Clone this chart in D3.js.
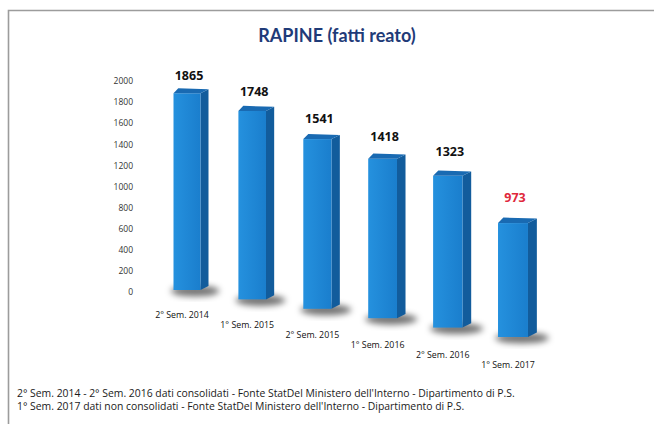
<!DOCTYPE html>
<html>
<head>
<meta charset="utf-8">
<script src="https://cdn.jsdelivr.net/npm/d3@7"></script>
<style>
  body{margin:0;background:#fff;}
  svg{display:block;}
</style>
</head>
<body>
<div id="chart"></div>
<script>
const width=654;
const height=424;

const categories=["2° Sem. 2014","1° Sem. 2015","2° Sem. 2015","1° Sem. 2016","2° Sem. 2016","1° Sem. 2017"];
const values=[1865,1748,1541,1418,1323,973];
const consolidated=[true,true,true,true,true,false];
const tickValues=[0,200,400,600,800,1000,1200,1400,1600,1800,2000];
const title="RAPINE (fatti reato)";
const footnotes=[
  "2° Sem. 2014 - 2° Sem. 2016 dati consolidati - Fonte StatDel Ministero dell'Interno - Dipartimento di P.S.",
  "1° Sem. 2017 dati non consolidati - Fonte StatDel Ministero dell'Interno - Dipartimento di P.S."
];

const svg=d3.select("#chart").append("svg")
  .attr("width",width).attr("height",height);

const defs=svg.append("defs");
defs.append("filter").attr("id","blur")
  .attr("x","-50%").attr("y","-50%").attr("width","200%").attr("height","200%")
  .append("feGaussianBlur").attr("stdDeviation",3);
const grad=defs.append("linearGradient").attr("id","front").attr("x1",0).attr("x2",1).attr("y1",0).attr("y2",0);
grad.append("stop").attr("offset","0%").attr("stop-color","#2591de");
grad.append("stop").attr("offset","100%").attr("stop-color","#1a7ecd");

// frame
svg.append("path")
  .attr("d",`M8.5,${height} L8.5,10.5 L${width},10.5`)
  .attr("fill","none").attr("stroke","#9c9c9c").attr("stroke-width",1.6);

svg.append("text")
  .attr("x",337).attr("y",42)
  .attr("text-anchor","middle")
  .attr("font-family","Lato, sans-serif").attr("font-weight","bold")
  .attr("font-size",18).attr("fill","#1f3b78")
  .text(title);

// value axis (front plane of first bar)
const y=d3.scaleLinear().domain([0,2000]).range([292,81]);
const yAxis=svg.append("g")
  .attr("transform","translate(133,0)")
  .call(d3.axisLeft(y).tickValues(tickValues).tickSize(0).tickPadding(0).tickFormat(d3.format("d")));
yAxis.select(".domain").remove();
yAxis.selectAll("text")
  .attr("font-family","Open Sans, sans-serif").attr("font-size",8.5).attr("fill","#333");

// perspective: bars recede toward the top-left
const x=d3.scalePoint().domain(categories).range([187,513]);
const depth=d3.scaleLinear().domain([0,categories.length-1]).range([0,1]);
const baseY=d3.scaleLinear().domain([0,1]).range([290,337]);
const grow=d3.scaleLinear().domain([0,1]).range([1,1.11]);

const bars=categories.map((c,i)=>{
  const t=depth(i);
  const g=grow(t);
  const w=27*g;
  const cx=x(c);
  const yB=baseY(t);
  const yT=yB-(y(0)-y(values[i]))*g;
  return {c,i,t,v:values[i],cx,w,x0:cx-w/2,x1:cx+w/2,yB,yT,dx:8*g,dy:4*g};
});

const barg=svg.selectAll(".bar").data(bars).enter().append("g").attr("class","bar");

barg.append("ellipse")
  .attr("cx",d=>d.cx+d.w*0.3).attr("cy",d=>d.yB+1)
  .attr("rx",d=>d.w*0.9).attr("ry",5.5)
  .attr("fill","rgba(0,0,0,0.55)")
  .attr("filter","url(#blur)");

barg.append("path")
  .attr("d",d=>`M${d.x1},${d.yT} L${d.x1+d.dx},${d.yT-d.dy} L${d.x1+d.dx},${d.yB-d.dy} L${d.x1},${d.yB} Z`)
  .attr("fill","#125c9c");

barg.append("rect")
  .attr("x",d=>d.x0).attr("y",d=>d.yT)
  .attr("width",d=>d.w).attr("height",d=>d.yB-d.yT)
  .attr("fill","url(#front)");

barg.append("path")
  .attr("d",d=>`M${d.x0},${d.yT} L${d.x0+d.dx*0.6},${d.yT-d.dy-1} L${d.x1+d.dx},${d.yT-d.dy} L${d.x1},${d.yT} Z`)
  .attr("fill","#196ab2");

barg.append("text")
  .attr("x",d=>d.cx+2).attr("y",d=>d.yT-13-8*d.t)
  .attr("text-anchor","middle")
  .attr("font-family","Open Sans, sans-serif").attr("font-weight","bold")
  .attr("font-size",12.5)
  .attr("fill",d=>consolidated[d.i]?"#111":"#e0283c")
  .text(d=>d.v);

barg.append("text")
  .attr("x",d=>d.cx-5).attr("y",d=>d.yB+28+3*d.t)
  .attr("text-anchor","middle")
  .attr("font-family","Open Sans, sans-serif")
  .attr("font-size",8.8).attr("fill","#111")
  .text(d=>d.c);

svg.selectAll(".note").data(footnotes).enter().append("text")
  .attr("class","note")
  .attr("x",17).attr("y",(d,i)=>397+i*13)
  .attr("font-family","Open Sans, sans-serif")
  .attr("font-size",10.4).attr("fill","#1a1a1a")
  .text(d=>d);
</script>
</body>
</html>
